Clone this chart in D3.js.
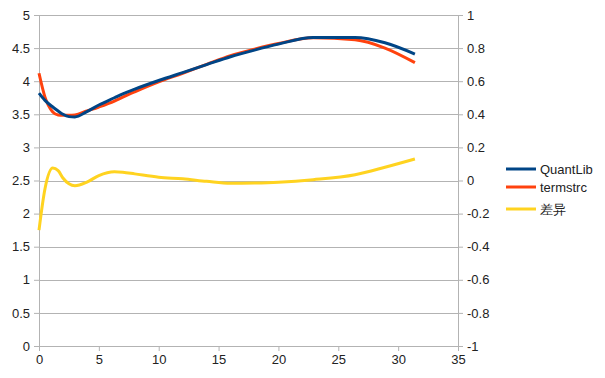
<!DOCTYPE html>
<html>
<head>
<meta charset="utf-8">
<script src="https://cdn.jsdelivr.net/npm/d3@7"></script>
<style>
  body { margin: 0; background: #fff; }
  text { font-family: "Liberation Sans", Arial, sans-serif; font-size: 13px; fill: #222; }
</style>
</head>
<body>
<div id="chart"></div>
<script>
// maturities (years)
const maturities = [0, 0.5, 1.15, 1.6, 2, 2.5, 3, 4, 5, 6.3, 7, 8, 10, 12, 14, 16, 18, 20, 22.9, 26.4, 28.9, 31.4]
const quantlib = [3.82, 3.71, 3.61, 3.55, 3.50, 3.465, 3.46, 3.54, 3.64, 3.75, 3.81, 3.88, 4.01, 4.13, 4.25, 4.37, 4.47, 4.56, 4.66, 4.66, 4.58, 4.41]
const termstrc = [4.12, 3.76, 3.535, 3.49, 3.485, 3.485, 3.49, 3.55, 3.61, 3.70, 3.76, 3.84, 3.99, 4.12, 4.255, 4.387, 4.485, 4.57, 4.655, 4.625, 4.50, 4.28]
const diff = [-0.30, -0.05, 0.075, 0.06, 0.015, -0.02, -0.032, -0.01, 0.03, 0.053, 0.05, 0.04, 0.02, 0.01, -0.005, -0.017, -0.015, -0.01, 0.005, 0.035, 0.08, 0.13]
const leftTicks = [0, 0.5, 1, 1.5, 2, 2.5, 3, 3.5, 4, 4.5, 5]
const rightTicks = [-1, -0.8, -0.6, -0.4, -0.2, 0, 0.2, 0.4, 0.6, 0.8, 1]
const xTicks = [0, 5, 10, 15, 20, 25, 30, 35]
const seriesNames = ["QuantLib", "termstrc", "差异"]
const colors = ["#004586", "#ff420e", "#ffd320"]

var margin = {top: 15, right: 147, bottom: 32, left: 39},
    width = 605 - margin.left - margin.right,
    height = 378 - margin.top - margin.bottom;

var svg = d3.select("#chart")
    .append("svg")
    .attr("width", 605)
    .attr("height", 378)
    .append("g")
    .attr("transform", "translate(" + margin.left + "," + margin.top + ")");

var x = d3.scaleLinear().domain([0, 35]).range([0, width])
var y = d3.scaleLinear().domain([0, 5]).range([height, 0])
var y2 = d3.scaleLinear().domain([-1, 1]).range([height, 0])

// horizontal grid
svg.selectAll(".grid")
    .data(leftTicks)
    .enter()
    .append("line")
    .attr("x1", 0)
    .attr("x2", width)
    .attr("y1", d => Math.round(y(d)) + 0.5)
    .attr("y2", d => Math.round(y(d)) + 0.5)
    .attr("stroke", "#b3b3b3")
    .attr("stroke-width", 1)

// axes
var left = svg.append("g")
    .call(d3.axisLeft(y).tickValues(leftTicks).tickSize(5).tickPadding(4).tickFormat(d3.format("")))
var right = svg.append("g")
    .attr("transform", "translate(" + width + ",0)")
    .call(d3.axisRight(y2).tickValues(rightTicks).tickSize(5).tickPadding(4).tickFormat(d => d3.format("")(d).replace("−", "-")))
var bottom = svg.append("g")
    .attr("transform", "translate(0," + height + ")")
    .call(d3.axisBottom(x).tickValues(xTicks).tickSize(5).tickPadding(4))

for (const a of [left, right, bottom]) {
    a.selectAll("path").attr("stroke", "#b3b3b3")
    a.selectAll("line").attr("stroke", "#b3b3b3")
    a.selectAll("text").style("font-size", "13px").attr("fill", "#222")
    a.attr("font-family", null)
}
bottom.select("path").remove()
bottom.append("line").attr("x1", 0).attr("x2", width).attr("y1", 0.5).attr("y2", 0.5).attr("stroke", "#b3b3b3")

// lines
const line = d3.line().curve(d3.curveMonotoneX)
const data = [
    maturities.map((m, i) => [x(m), y(quantlib[i])]),
    maturities.map((m, i) => [x(m), y(termstrc[i])]),
    maturities.map((m, i) => [x(m), y2(diff[i])])
]
// termstrc first, QuantLib over it, then the difference
const order = [1, 0, 2]
for (const k of order) {
    svg.append("path")
        .attr("d", line(data[k]))
        .attr("fill", "none")
        .attr("stroke", colors[k])
        .attr("stroke-width", 3)
        .attr("stroke-linejoin", "round")
}

// legend
var legend = svg.append("g").attr("transform", "translate(" + (506 - margin.left) + "," + (169 - margin.top) + ")")
const legendY = [0, 18, 40]
seriesNames.forEach(function(name, i) {
    legend.append("line")
        .attr("x1", 0).attr("x2", 30)
        .attr("y1", legendY[i]).attr("y2", legendY[i])
        .attr("stroke", colors[i])
        .attr("stroke-width", 3)
    legend.append("text")
        .attr("x", 34)
        .attr("y", legendY[i])
        .attr("dy", "0.35em")
        .text(name)
})
</script>
</body>
</html>
